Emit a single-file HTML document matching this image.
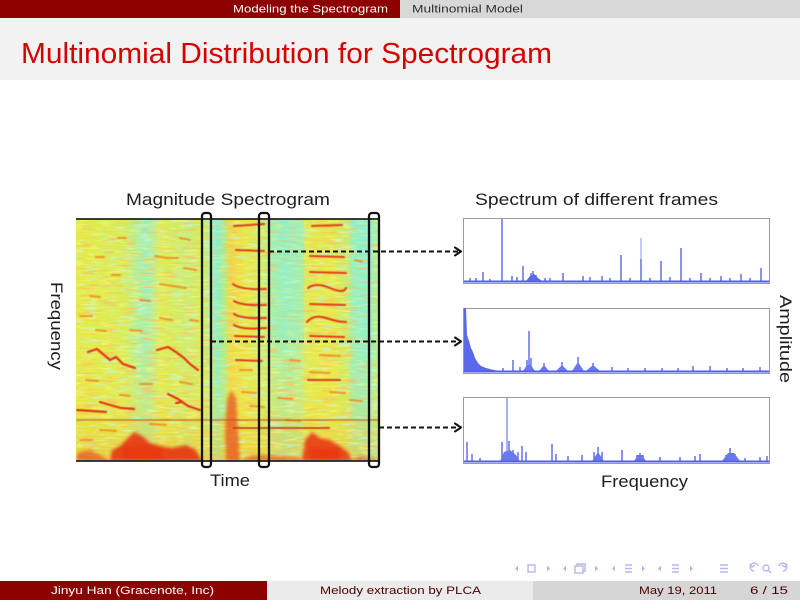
<!DOCTYPE html>
<html>
<head>
<meta charset="utf-8">
<style>
  html,body{margin:0;padding:0;background:#fff;}
  body{width:800px;height:600px;overflow:hidden;}
  svg{display:block;}
  text{font-family:"Liberation Sans","DejaVu Sans",sans-serif;}
</style>
</head>
<body>
<svg width="800" height="600" viewBox="0 0 800 600" xmlns="http://www.w3.org/2000/svg">
  <defs>
    <linearGradient id="base" x1="76" y1="0" x2="380" y2="0" gradientUnits="userSpaceOnUse">
      <stop offset="0" stop-color="#e4ea4a"/>
      <stop offset="0.08" stop-color="#dcec52"/>
      <stop offset="0.16" stop-color="#d6ec5c"/>
      <stop offset="0.20" stop-color="#b0eea0"/>
      <stop offset="0.23" stop-color="#98f0c0"/>
      <stop offset="0.254" stop-color="#b6eea0"/>
      <stop offset="0.276" stop-color="#e0ea52"/>
      <stop offset="0.326" stop-color="#d0ec64"/>
      <stop offset="0.375" stop-color="#c6ee80"/>
      <stop offset="0.408" stop-color="#d8ea54"/>
      <stop offset="0.45" stop-color="#a8eeae"/>
      <stop offset="0.467" stop-color="#86f0d0"/>
      <stop offset="0.49" stop-color="#c8ea64"/>
      <stop offset="0.51" stop-color="#f0d448"/>
      <stop offset="0.556" stop-color="#e8e84a"/>
      <stop offset="0.602" stop-color="#d8ea5a"/>
      <stop offset="0.638" stop-color="#b4eea0"/>
      <stop offset="0.688" stop-color="#96f0c0"/>
      <stop offset="0.737" stop-color="#aceea8"/>
      <stop offset="0.76" stop-color="#e0e852"/>
      <stop offset="0.836" stop-color="#e8e84a"/>
      <stop offset="0.888" stop-color="#c8ec72"/>
      <stop offset="0.92" stop-color="#96f0c8"/>
      <stop offset="0.97" stop-color="#8ceed0"/>
      <stop offset="1" stop-color="#c0ec84"/>
    </linearGradient>
    <linearGradient id="vshade" x1="0" y1="219" x2="0" y2="461" gradientUnits="userSpaceOnUse">
      <stop offset="0" stop-color="#f0f040" stop-opacity="0"/>
      <stop offset="0.55" stop-color="#f0f040" stop-opacity="0.15"/>
      <stop offset="0.8" stop-color="#f0e040" stop-opacity="0.45"/>
      <stop offset="1" stop-color="#f0c030" stop-opacity="0.6"/>
    </linearGradient>
    <clipPath id="sclip"><rect x="76" y="219" width="304" height="242"/></clipPath>
    <filter id="tex1" x="76" y="219" width="304" height="242" filterUnits="userSpaceOnUse">
      <feTurbulence type="fractalNoise" baseFrequency="0.05 0.4" numOctaves="2" seed="4"/>
      <feColorMatrix type="matrix" values="0 0 0 0 0.95  0 0 0 0 0.55  0 0 0 0 0.1  4 0 0 0 -2.2"/>
    </filter>
    <filter id="tex2" x="76" y="219" width="304" height="242" filterUnits="userSpaceOnUse">
      <feTurbulence type="fractalNoise" baseFrequency="0.06 0.3" numOctaves="2" seed="11"/>
      <feColorMatrix type="matrix" values="0 0 0 0 0.5  0 0 0 0 0.94  0 0 0 0 0.85  4 0 0 0 -2.2"/>
    </filter>
    <filter id="tex3" x="76" y="219" width="304" height="242" filterUnits="userSpaceOnUse">
      <feTurbulence type="fractalNoise" baseFrequency="0.07 0.5" numOctaves="2" seed="23"/>
      <feColorMatrix type="matrix" values="0 0 0 0 0.96  0 0 0 0 0.94  0 0 0 0 0.2  4 0 0 0 -2.1"/>
    </filter>
    <filter id="soft" x="-10%" y="-10%" width="120%" height="120%">
      <feGaussianBlur stdDeviation="0.6"/>
    </filter>
    <filter id="soft2" x="-10%" y="-10%" width="120%" height="120%">
      <feGaussianBlur stdDeviation="1.5"/>
    </filter>
  </defs>

  <!-- Header -->
  <rect x="0" y="0" width="400" height="18" fill="#8c0000"/>
  <rect x="400" y="0" width="400" height="18" fill="#d8d8d8"/>
  <text x="233" y="12.5" font-size="11" fill="#ffffff" textLength="155" lengthAdjust="spacingAndGlyphs">Modeling the Spectrogram</text>
  <text x="412" y="12.5" font-size="11" fill="#303030" textLength="111" lengthAdjust="spacingAndGlyphs">Multinomial Model</text>

  <!-- Title band -->
  <rect x="0" y="18" width="800" height="62" fill="#f2f2f2"/>
  <text x="21" y="63" font-size="29" fill="#d40000" textLength="531" lengthAdjust="spacingAndGlyphs">Multinomial Distribution for Spectrogram</text>

  <!-- Figure titles -->
  <text x="126" y="205" font-size="16.5" fill="#1e1e1e" textLength="204" lengthAdjust="spacingAndGlyphs">Magnitude Spectrogram</text>
  <text x="475" y="205" font-size="16.5" fill="#1e1e1e" textLength="243" lengthAdjust="spacingAndGlyphs">Spectrum of different frames</text>
  <text x="210" y="486" font-size="16.5" fill="#1e1e1e" textLength="40" lengthAdjust="spacingAndGlyphs">Time</text>
  <text x="601" y="487" font-size="16.5" fill="#1e1e1e" textLength="87" lengthAdjust="spacingAndGlyphs">Frequency</text>
  <g transform="translate(51,326) rotate(90)">
    <text x="0" y="0" font-size="16.5" fill="#1e1e1e" text-anchor="middle" textLength="88" lengthAdjust="spacingAndGlyphs">Frequency</text>
  </g>
  <g transform="translate(780,339) rotate(90)">
    <text x="0" y="0" font-size="16.5" fill="#1e1e1e" text-anchor="middle" textLength="88" lengthAdjust="spacingAndGlyphs">Amplitude</text>
  </g>

  <!-- Spectrogram -->
  <g clip-path="url(#sclip)">
    <rect x="76" y="219" width="304" height="242" fill="url(#base)"/>
    <rect x="76" y="219" width="304" height="242" fill="url(#vshade)"/>
    <rect x="76" y="219" width="304" height="242" filter="url(#tex2)" opacity="0.7"/>
    <rect x="76" y="219" width="304" height="242" filter="url(#tex3)" opacity="0.6"/>
    <rect x="76" y="219" width="304" height="242" filter="url(#tex1)" opacity="0.85"/>

    <!-- cyan upper emphasis in bands -->
    <rect x="270" y="219" width="34" height="120" fill="#80f0d8" opacity="0.3"/>
    <rect x="213" y="219" width="14" height="200" fill="#80f0d8" opacity="0.25"/>
    <rect x="350" y="219" width="22" height="200" fill="#80f0d8" opacity="0.25"/>

    <g filter="url(#soft)">
    <!-- scattered orange streaks -->
    <g stroke="#f08a20" stroke-width="2" stroke-linecap="round" opacity="0.85" fill="none">
      <path d="M96,257 L104,257"/>
      <path d="M112,275 L120,275"/>
      <path d="M155,256 L168,258 L178,258"/>
      <path d="M160,284 L172,286 L186,288"/>
      <path d="M90,296 L100,297"/>
      <path d="M118,238 L126,238"/>
      <path d="M180,238 L190,240"/>
      <path d="M184,268 L196,270"/>
      <path d="M80,316 L92,316"/>
      <path d="M130,330 L142,331"/>
      <path d="M160,318 L172,320"/>
      <path d="M86,380 L98,381"/>
      <path d="M140,384 L152,384"/>
      <path d="M180,382 L192,384"/>
      <path d="M240,370 L252,370"/>
      <path d="M290,360 L300,361"/>
      <path d="M320,355 L340,356"/>
      <path d="M310,372 L330,373"/>
      <path d="M355,260 L362,262"/>
      <path d="M278,398 L292,399"/>
      <path d="M330,392 L345,393"/>
      <path d="M100,430 L116,431"/>
      <path d="M150,424 L166,425"/>
      <path d="M250,406 L264,407"/>
      <path d="M80,440 L92,440"/>
      <path d="M140,300 L150,301"/>
      <path d="M96,330 L106,331"/>
      <path d="M190,320 L198,321"/>
      <path d="M120,395 L130,396"/>
      <path d="M286,420 L300,421"/>
      <path d="M350,400 L362,401"/>
      <path d="M242,392 L256,393"/>
    </g>

    <!-- red harmonic curves (left) -->
    <g stroke="#e23412" stroke-width="2.2" stroke-linecap="round" stroke-linejoin="round" fill="none">
      <path d="M88,352 L97,349 L104,355 L110,360 L116,357 L123,364 L135,368"/>
      <path d="M157,350 L168,347 L176,352 L184,358 L190,364 L198,370"/>
      <path d="M100,402 L110,405 L121,408 L134,409"/>
      <path d="M168,394 L178,399 L188,406 L200,410"/>
      <path d="M77,410 L106,412"/>
      <path d="M176,403 L182,402"/>
    </g>
    <!-- red lines (middle section) -->
    <g stroke="#e23a12" stroke-width="2" stroke-linecap="round" fill="none">
      <path d="M234,226 L264,224"/>
      <path d="M236,250 L264,251"/>
      <path d="M233,284 Q240,290 266,289"/>
      <path d="M234,301 Q242,306 266,305"/>
      <path d="M234,314 Q242,319 266,318"/>
      <path d="M234,325 Q242,330 266,328"/>
      <path d="M235,336 L264,337"/>
      <path d="M236,360 L262,361"/>
    </g>
    <!-- red lines (right section) -->
    <g stroke="#e23a12" stroke-width="2" stroke-linecap="round" fill="none">
      <path d="M312,226 L342,225"/>
      <path d="M310,256 L344,257"/>
      <path d="M310,272 L346,273"/>
      <path d="M308,288 Q316,282 330,288 T346,288"/>
      <path d="M310,304 L345,305"/>
      <path d="M307,322 Q314,314 326,318 T346,322"/>
      <path d="M310,336 L344,337"/>
      <path d="M308,380 L340,380"/>
    </g>
    <!-- thin long lines -->
    <path d="M76,420 L380,420" stroke="#b84010" stroke-width="1.2" opacity="0.75"/>
    <path d="M233,428 L330,428" stroke="#c02a10" stroke-width="1.6"/>
    </g>

    <!-- bottom red regions -->
    <g fill="#e83412" filter="url(#soft2)">
      <path d="M110,461 L112,450 L120,446 L128,438 L134,432 L142,436 L150,443 L160,446 L172,448 L186,445 L196,450 L202,461 Z" opacity="0.9"/>
      <path d="M76,461 L78,452 L90,450 L100,455 L110,461 Z" opacity="0.6"/>
      <path d="M226,461 L225,430 L227,400 L231,390 L236,398 L238,430 L240,461 Z" opacity="0.6"/>
      <path d="M302,461 L305,440 L312,432 L320,438 L330,440 L340,446 L348,452 L352,461 Z" opacity="0.85"/>
      <path d="M240,461 L250,456 L270,455 L300,458 L302,461 Z" opacity="0.55"/>
      <path d="M350,461 L360,456 L372,458 L380,461 Z" opacity="0.5"/>
      <rect x="122" y="446" width="40" height="15" opacity="0.7"/>
      <rect x="310" y="448" width="30" height="13" opacity="0.7"/>
    </g>
  </g>
  <!-- spectrogram top/bottom frame -->
  <line x1="76" y1="219" x2="380" y2="219" stroke="#222" stroke-width="1.8"/>
  <line x1="76" y1="461" x2="380" y2="461" stroke="#222" stroke-width="1.8"/>

  <!-- Dashed connectors -->
  <g stroke="#111" stroke-width="2" stroke-dasharray="5,3" fill="none">
    <line x1="269" y1="251.5" x2="458" y2="251.5"/>
    <line x1="211" y1="341.5" x2="458" y2="341.5"/>
    <line x1="379" y1="427.5" x2="458" y2="427.5"/>
  </g>
  <g stroke="#111" stroke-width="2" fill="none" stroke-linecap="round" stroke-linejoin="round">
    <path d="M455,247.5 L461,251.5 L455,255.5"/>
    <path d="M455,337.5 L461,341.5 L455,345.5"/>
    <path d="M455,423.5 L461,427.5 L455,431.5"/>
  </g>

  <!-- Frame boxes -->
  <g stroke="#111" stroke-width="2.3" fill="none">
    <rect x="202" y="213" width="9" height="254" rx="3"/>
    <rect x="259" y="213" width="10" height="254" rx="3"/>
    <rect x="369" y="213" width="10" height="254" rx="3"/>
  </g>

  <!-- Spectrum panels -->
  <g fill="#ffffff" stroke="#9a9a9a" stroke-width="1">
    <rect x="463.5" y="218.5" width="306" height="65"/>
    <rect x="463.5" y="308.5" width="306" height="65"/>
    <rect x="463.5" y="397.5" width="306" height="66"/>
  </g>

  <!-- Panel 1 -->
  <g stroke="#4a5ae8" stroke-width="1.3" fill="none">
    <path d="M483,281V272 M502,281V219 M523,281V266 M531,281V273 M533,281V271 M536,281V275 M563,281V273 M583,281V276 M602,281V276 M621,281V255 M641,281V259 M661,281V261 M681,281V248 M701,281V273 M721,281V276 M741,281V274 M761,281V268
             M470,281V278 M476,281V278 M490,281V279 M512,281V276 M517,281V277 M545,281V278 M550,281V278 M590,281V277 M610,281V278 M630,281V278 M650,281V278 M670,281V277 M690,281V278 M710,281V278 M730,281V278 M750,281V278"/>
  </g>
  <path d="M641,259V238" stroke="#a8b0f4" stroke-width="1.3"/>
  <path d="M464,281.5 H769" stroke="#5060e8" stroke-width="2"/>
  <path d="M526,281 L530,276 L534,274 L538,278 L542,281 Z" fill="#5a68ea"/>

  <!-- Panel 2 -->
  <path d="M464,371 L464,308 L466,308 L467,335 L469,341 L471,348 L473,352 L475,358 L478,363 L481,366 L486,368 L494,370 L500,371 Z" fill="#5a68ea"/>
  <g stroke="#4a5ae8" stroke-width="1.3" fill="none">
    <path d="M513,371V360 M529,371V331 M527,371V360 M531,371V358 M544,371V363 M562,371V362 M578,371V357 M593,371V363 M612,371V367 M628,371V368 M645,371V368 M662,371V368 M678,371V368 M693,371V366 M710,371V366 M727,371V368 M743,371V368 M760,371V367 M503,371V368 M520,371V367"/>
  </g>
  <g fill="#6a78ee">
    <path d="M523,371 L527,365 L531,365 L535,371 Z"/>
    <path d="M539,371 L544,365 L549,371 Z"/>
    <path d="M556,371 L562,365 L568,371 Z"/>
    <path d="M572,371 L578,362 L584,371 Z"/>
    <path d="M586,371 L593,365 L600,371 Z"/>
  </g>
  <path d="M464,371.5 H769" stroke="#5060e8" stroke-width="2"/>

  <!-- Panel 3 -->
  <g stroke="#4a5ae8" stroke-width="1.3" fill="none">
    <path d="M467,461V442 M472,461V454 M480,461V458 M502,461V442 M509,461V441 M513,461V450 M518,461V452 M522,461V446 M526,461V452 M552,461V444 M556,461V454 M568,461V456 M582,461V455 M594,461V452 M598,461V447 M602,461V452 M622,461V450 M637,461V455 M640,461V453 M643,461V455 M660,461V457 M680,461V457 M695,461V456 M700,461V454 M730,461V448 M726,461V455 M735,461V454 M745,461V458 M760,461V457 M767,461V456"/>
  </g>
  <path d="M507,461V398" stroke="#8a96f2" stroke-width="1.5"/>
  <g fill="#6a78ee">
    <path d="M500,461 L504,452 L510,450 L516,455 L520,461 Z"/>
    <path d="M592,461 L598,452 L604,461 Z"/>
    <path d="M634,461 L638,455 L642,455 L646,461 Z"/>
    <path d="M722,461 L728,453 L734,453 L740,461 Z"/>
  </g>
  <path d="M464,461.5 H769" stroke="#5060e8" stroke-width="2"/>

  <!-- Navigation symbols -->
  <g fill="none" stroke="#b4b8e8" stroke-width="1.4">
    <rect x="528" y="565" width="7" height="7"/>
    <rect x="575" y="566" width="8" height="7"/>
    <path d="M577,566 V564 H585 V571 H583"/>
    <path d="M625,565 H632 M625,568.5 H632 M625,572 H632"/>
    <path d="M672,565 H679 M672,568.5 H679 M672,572 H679"/>
    <path d="M720,565 H728 M720,568.5 H728 M720,572 H728"/>
    <path d="M758,566 A4,4 0 1 0 754,571 M750,564 L752,567 L755,565"/>
    <circle cx="766" cy="568" r="3"/>
    <path d="M768.5,570.5 L771,573"/>
    <path d="M779,566 A4,4 0 1 1 783,571 M787,564 L785,567 L782,565"/>
  </g>
  <g fill="#b4b8e8">
    <path d="M518,565.5 L515,568.5 L518,571.5 Z"/>
    <path d="M547,565.5 L550,568.5 L547,571.5 Z"/>
    <path d="M566,565.5 L563,568.5 L566,571.5 Z"/>
    <path d="M595,565.5 L598,568.5 L595,571.5 Z"/>
    <path d="M615,565.5 L612,568.5 L615,571.5 Z"/>
    <path d="M642,565.5 L645,568.5 L642,571.5 Z"/>
    <path d="M661,565.5 L658,568.5 L661,571.5 Z"/>
    <path d="M690,565.5 L693,568.5 L690,571.5 Z"/>
  </g>

  <!-- Footer -->
  <rect x="0" y="581" width="267" height="19" fill="#8c0000"/>
  <rect x="267" y="581" width="266" height="19" fill="#ebebeb"/>
  <rect x="533" y="581" width="267" height="19" fill="#d6d6d6"/>
  <text x="51" y="594" font-size="11" fill="#ffffff" textLength="163" lengthAdjust="spacingAndGlyphs">Jinyu Han  (Gracenote, Inc)</text>
  <text x="320" y="594" font-size="11" fill="#4a0000" textLength="161" lengthAdjust="spacingAndGlyphs">Melody extraction by PLCA</text>
  <text x="639" y="594" font-size="11" fill="#4a0000" textLength="78" lengthAdjust="spacingAndGlyphs">May 19, 2011</text>
  <text x="750" y="594" font-size="11" fill="#4a0000" textLength="38" lengthAdjust="spacingAndGlyphs">6 / 15</text>
</svg>
</body>
</html>
